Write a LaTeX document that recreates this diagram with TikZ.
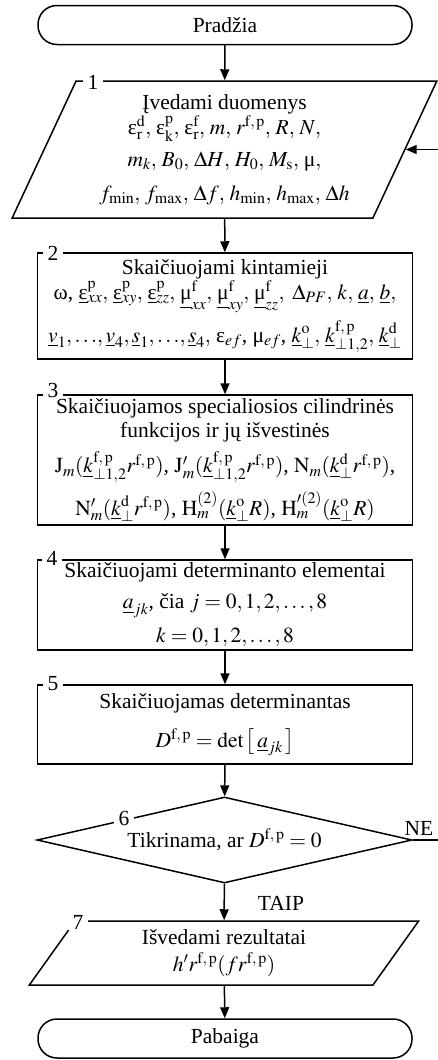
\documentclass[tikz,border=0pt]{standalone}
\usepackage{mathptmx}
\usepackage{fontspec}
\setmainfont{Liberation Serif}
\usetikzlibrary{shapes.geometric,arrows.meta}

\newcommand{\fp}{\mathrm{f,\,p}}
\newcommand{\ueps}{\mbox{ε}}
\newcommand{\umu}{\mbox{μ}}
\newcommand{\cs}{,\,}

\begin{document}
\begin{tikzpicture}[x=1pt,y=-1pt,
      font=\fontsize{21.5}{25}\selectfont,
      line width=1.5pt,
      term/.style={
        draw, rounded corners=19pt, minimum width=374pt,
        minimum height=39pt, inner sep=0pt
      },
      io/.style={
        draw, trapezium, trapezium stretches=true,
        align=center, inner sep=0pt
      },
      calc/.style={
        draw, align=center, minimum width=375pt, inner sep=0pt
      },
      test/.style={
        draw, diamond, aspect=4.36, inner sep=0pt,
        minimum width=375pt, minimum height=86pt
      },
      num/.style={fill=white, inner xsep=5pt, inner ysep=1pt},
      arr/.style={-{Triangle[length=11pt,width=9pt]}}
    ]
    \useasboundingbox (0,0) rectangle (438,1060);

    \node[term] (start) at (225,25) {Pradžia};

    \node[io, trapezium left angle=64, trapezium right angle=116,
      minimum width=425pt, minimum height=137pt] (in1) at (224.5,149.5)
      {Įvedami duomenys\\[0pt]
      $\ueps^{\mathrm d}_{\mathrm r}\cs \ueps^{\mathrm p}_{\mathrm k}\cs
      \ueps^{\mathrm f}_{\mathrm r}\cs m\cs r^{\fp}\cs R\cs N,$\\[7pt]
      $m_k\cs B_0\cs \Delta H\cs H_0\cs M_{\mathrm s}\cs \umu,$\\[9pt]
      $f_{\min}\cs f_{\max}\cs \Delta f\cs h_{\min}\cs h_{\max}\cs \Delta h$};

    \node[calc, minimum height=106pt] (calc2) at (225,306)
      {Skaičiuojami kintamieji\\[0pt]
      ω, $\underline{\ueps}^{\mathrm p}_{xx}\cs \underline{\ueps}^{\mathrm p}_{xy}\cs
      \underline{\ueps}^{\mathrm p}_{zz}\cs \underline{\umu}^{\mathrm f}_{xx}\cs
      \underline{\umu}^{\mathrm f}_{xy}\cs \underline{\umu}^{\mathrm f}_{zz},\ 
      \Delta_{PF}\cs k\cs \underline{a}\cs \underline{b},$\\[7pt]
      $\underline{v}_1,{\ldots},\underline{v}_4, \underline{s}_1,{\ldots},
      \underline{s}_4,$ ε$_{ef}$, μ$_{ef}$,
      $\underline{k}^{\mathrm o}_{\perp}\cs \underline{k}^{\fp}_{\perp 1,2}\cs
      \underline{k}^{\mathrm d}_{\perp}$};

    \node[calc, minimum height=130pt] (calc3) at (225,460)
      {Skaičiuojamos specialiosios cilindrinės\\[-1pt]
      funkcijos ir jų išvestinės\\[8pt]
      $\mathrm{J}_m(\underline{k}^{\fp}_{\perp 1,2} r^{\fp})$,
      $\mathrm{J}'_m(\underline{k}^{\fp}_{\perp 1,2} r^{\fp})$,
      $\mathrm{N}_m(\underline{k}^{\mathrm d}_{\perp} r^{\fp})$,\\[8pt]
      $\mathrm{N}'_m(\underline{k}^{\mathrm d}_{\perp} r^{\fp})$,
      $\mathrm{H}^{(2)}_m(\underline{k}^{\mathrm o}_{\perp} R)$,
      $\mathrm{H}'^{(2)}_m(\underline{k}^{\mathrm o}_{\perp} R)$};

    \node[calc, minimum height=90pt] (calc4) at (225,605)
      {Skaičiuojami determinanto elementai\\[6pt]
      $\underline{a}_{jk}$, čia $j = 0,1,2,\ldots,8$\\[9pt]
      $k = 0,1,2,\ldots,8$};

    \node[calc, minimum height=79pt] (calc5) at (225,724.5)
      {Skaičiuojamas determinantas\\[14pt]
      $D^{\fp} = \det\left[\,\underline{a}_{jk}\,\right]$};

    \node[test] (test6) at (224.5,840) {Tikrinama, ar $D^{\fp} = 0$};

    \node[io, trapezium left angle=62, trapezium right angle=118,
      minimum width=390pt, minimum height=64pt] (out7) at (224,953)
      {Išvedami rezultatai\\[2pt]
      $h' r^{\fp} (f r^{\fp})$};

    \node[term] (end) at (225,1038.5) {Pabaiga};

    % step numbers
    \node[num] (n1) at (93,82) {1};
    \node[num] (n2) at (53,253) {2};
    \node[num] (n3) at (53,390) {3};
    \node[num] (n4) at (52,558) {4};
    \node[num] (n5) at (53,684) {5};
    \node[num] (n6) at (124,818) {6};
    \node[num] (n7) at (78,922) {7};

    \draw[arr] (start) -- (in1);
    \draw[arr] (in1) -- (calc2);
    \draw[arr] (calc2) -- (calc3);
    \draw[arr] (calc3) -- (calc4);
    \draw[arr] (calc4) -- (calc5);
    \draw[arr] (calc5) -- (test6);
    \draw[arr] (test6) -- (out7);
    \draw[arr] (out7) -- (end);
    \draw[arr] (test6.east) -- ++(60,0) |- (in1.east);

    \node (taip) at (281,903) {TAIP};
    \node (ne) at (419,828) {NE};
  \end{tikzpicture}
\end{document}
